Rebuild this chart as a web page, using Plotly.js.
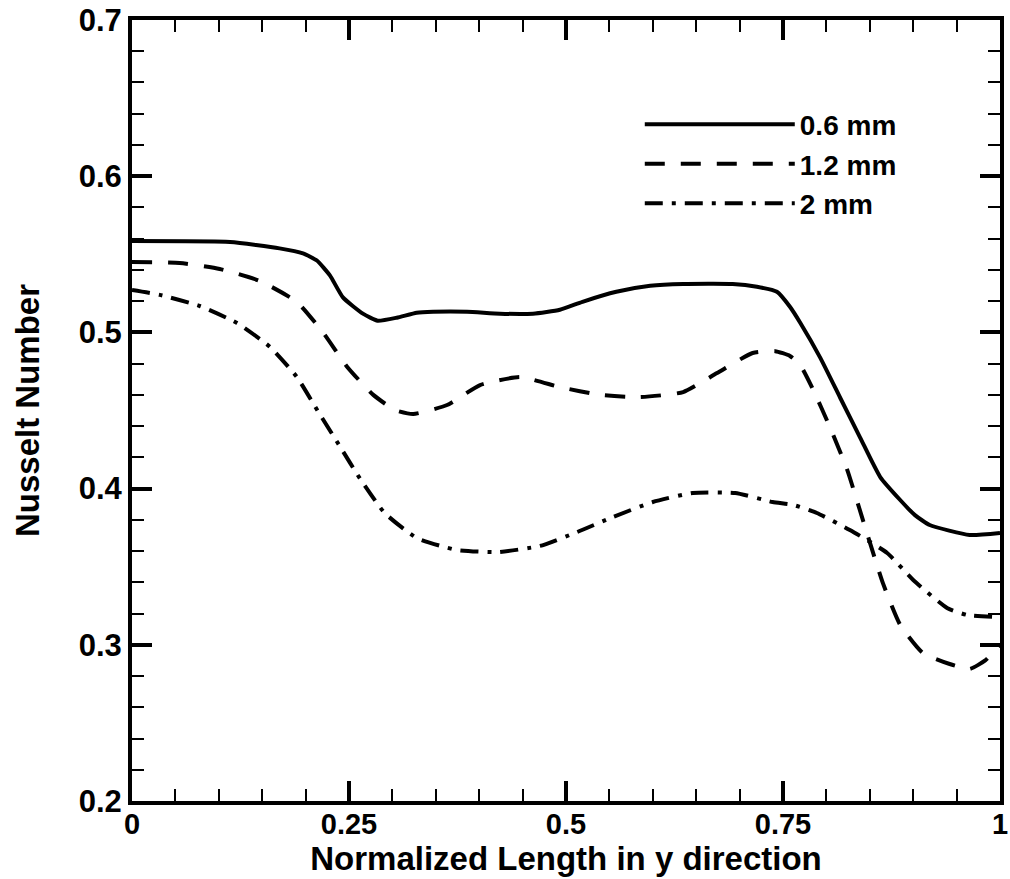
<!DOCTYPE html>
<html>
<head>
<meta charset="utf-8">
<script src="https://cdn.plot.ly/plotly-3.0.1.min.js"></script>
<style>html,body{margin:0;padding:0;background:#fff;}#chart{width:1010px;height:879px;}</style>
</head>
<body>
<div id="chart"></div>
<script>
// Series 0.6 mm (solid)
const x06 = [0, 0.113, 0.17, 0.197, 0.213, 0.228, 0.243, 0.266, 0.283, 0.305, 0.328, 0.347, 0.386, 0.424, 0.462, 0.493, 0.519, 0.558, 0.597, 0.635, 0.692, 0.72, 0.743, 0.758, 0.77, 0.793, 0.816, 0.839, 0.862, 0.885, 0.902, 0.919, 0.965, 1.0];
const y06 = [0.5585, 0.5579, 0.5538, 0.5506, 0.546, 0.5365, 0.5224, 0.512, 0.5075, 0.5094, 0.5126, 0.5132, 0.5132, 0.512, 0.512, 0.5145, 0.5196, 0.526, 0.5298, 0.531, 0.531, 0.5292, 0.526, 0.5164, 0.506, 0.4837, 0.458, 0.4325, 0.4074, 0.3927, 0.383, 0.3767, 0.3703, 0.3716];
// Series 1.2 mm (dashed)
const x12 = [0, 0.055, 0.101, 0.147, 0.19, 0.22, 0.248, 0.278, 0.303, 0.324, 0.363, 0.401, 0.447, 0.493, 0.539, 0.585, 0.635, 0.674, 0.715, 0.741, 0.758, 0.77, 0.785, 0.804, 0.824, 0.842, 0.865, 0.885, 0.911, 0.942, 0.965, 0.983, 1.0];
const y12 = [0.545, 0.5444, 0.5406, 0.533, 0.5195, 0.5, 0.4779, 0.46, 0.4503, 0.4478, 0.4535, 0.4663, 0.4714, 0.465, 0.46, 0.4586, 0.4618, 0.474, 0.4868, 0.488, 0.4849, 0.479, 0.463, 0.4394, 0.412, 0.38, 0.3396, 0.3127, 0.2948, 0.2877, 0.2845, 0.29, 0.3];
// Series 2 mm (dash-dot)
const x20 = [0, 0.032, 0.078, 0.121, 0.159, 0.19, 0.214, 0.24, 0.263, 0.291, 0.328, 0.374, 0.422, 0.47, 0.513, 0.554, 0.6, 0.646, 0.695, 0.738, 0.762, 0.789, 0.827, 0.87, 0.9, 0.939, 0.962, 0.998];
const y20 = [0.5271, 0.524, 0.5169, 0.506, 0.4907, 0.4714, 0.4497, 0.4266, 0.4061, 0.3844, 0.3684, 0.3607, 0.3594, 0.3633, 0.3722, 0.3818, 0.3914, 0.3972, 0.3972, 0.3914, 0.3895, 0.3844, 0.3735, 0.3588, 0.3415, 0.3236, 0.3191, 0.3178];

const seriesNames = ["0.6 mm", "1.2 mm", "2 mm"];
const xTickVals = [0, 0.25, 0.5, 0.75, 1];
const xTickText = ["0", "0.25", "0.5", "0.75", "1"];
const yTickVals = [0.2, 0.3, 0.4, 0.5, 0.6, 0.7];
const yTickText = ["0.2", "0.3", "0.4", "0.5", "0.6", "0.7"];

const FONT = "Liberation Sans, Arial, Helvetica, sans-serif";

const traces = [
  {x: x06, y: y06, name: seriesNames[0], mode: "lines", line: {color: "#000", width: 4, shape: "spline", smoothing: 0.5}},
  {x: x12, y: y12, name: seriesNames[1], mode: "lines", line: {color: "#000", width: 4, shape: "spline", smoothing: 0.5, dash: "20px,16px"}},
  {x: x20, y: y20, name: seriesNames[2], mode: "lines", line: {color: "#000", width: 4, shape: "spline", smoothing: 0.5, dash: "18px,9px,4px,9px"}}
];

const axisCommon = {
  showgrid: false, zeroline: false, showline: true, linecolor: "#000", linewidth: 4,
  mirror: "ticks", ticks: "inside", ticklen: 20, tickwidth: 4, tickcolor: "#000"
};

const layout = {
  width: 1010, height: 879,
  margin: {l: 132, r: 10, t: 20, b: 78},
  paper_bgcolor: "#fff", plot_bgcolor: "#fff",
  showlegend: true,
  legend: {x: 0.585, y: 0.898, xanchor: "left", yanchor: "top", bgcolor: "rgba(0,0,0,0)",
           font: {family: FONT, size: 28, color: "#000", weight: 700}, itemwidth: 150, tracegroupgap: 0},
  xaxis: Object.assign({}, axisCommon, {
    range: [0, 1], tickvals: xTickVals, ticktext: xTickText,
    tickfont: {family: FONT, size: 29, color: "#000", weight: 700}, ticklabelstandoff: -6,
    minor: {dtick: 0.05, ticks: "inside", ticklen: 12, tickwidth: 2, tickcolor: "#000"},
    title: {text: "Normalized Length in y direction", font: {family: FONT, size: 33, color: "#000", weight: 700}, standoff: 0}
  }),
  yaxis: Object.assign({}, axisCommon, {
    range: [0.2, 0.7], tickvals: yTickVals, ticktext: yTickText,
    tickfont: {family: FONT, size: 31, color: "#000", weight: 700},
    minor: {dtick: 0.02, ticks: "inside", ticklen: 12, tickwidth: 2, tickcolor: "#000"},
    title: {text: "Nusselt Number", font: {family: FONT, size: 33, color: "#000", weight: 700}, standoff: 30}
  })
};

Plotly.newPlot("chart", traces, layout, {displayModeBar: false, staticPlot: true});
</script>
</body>
</html>
